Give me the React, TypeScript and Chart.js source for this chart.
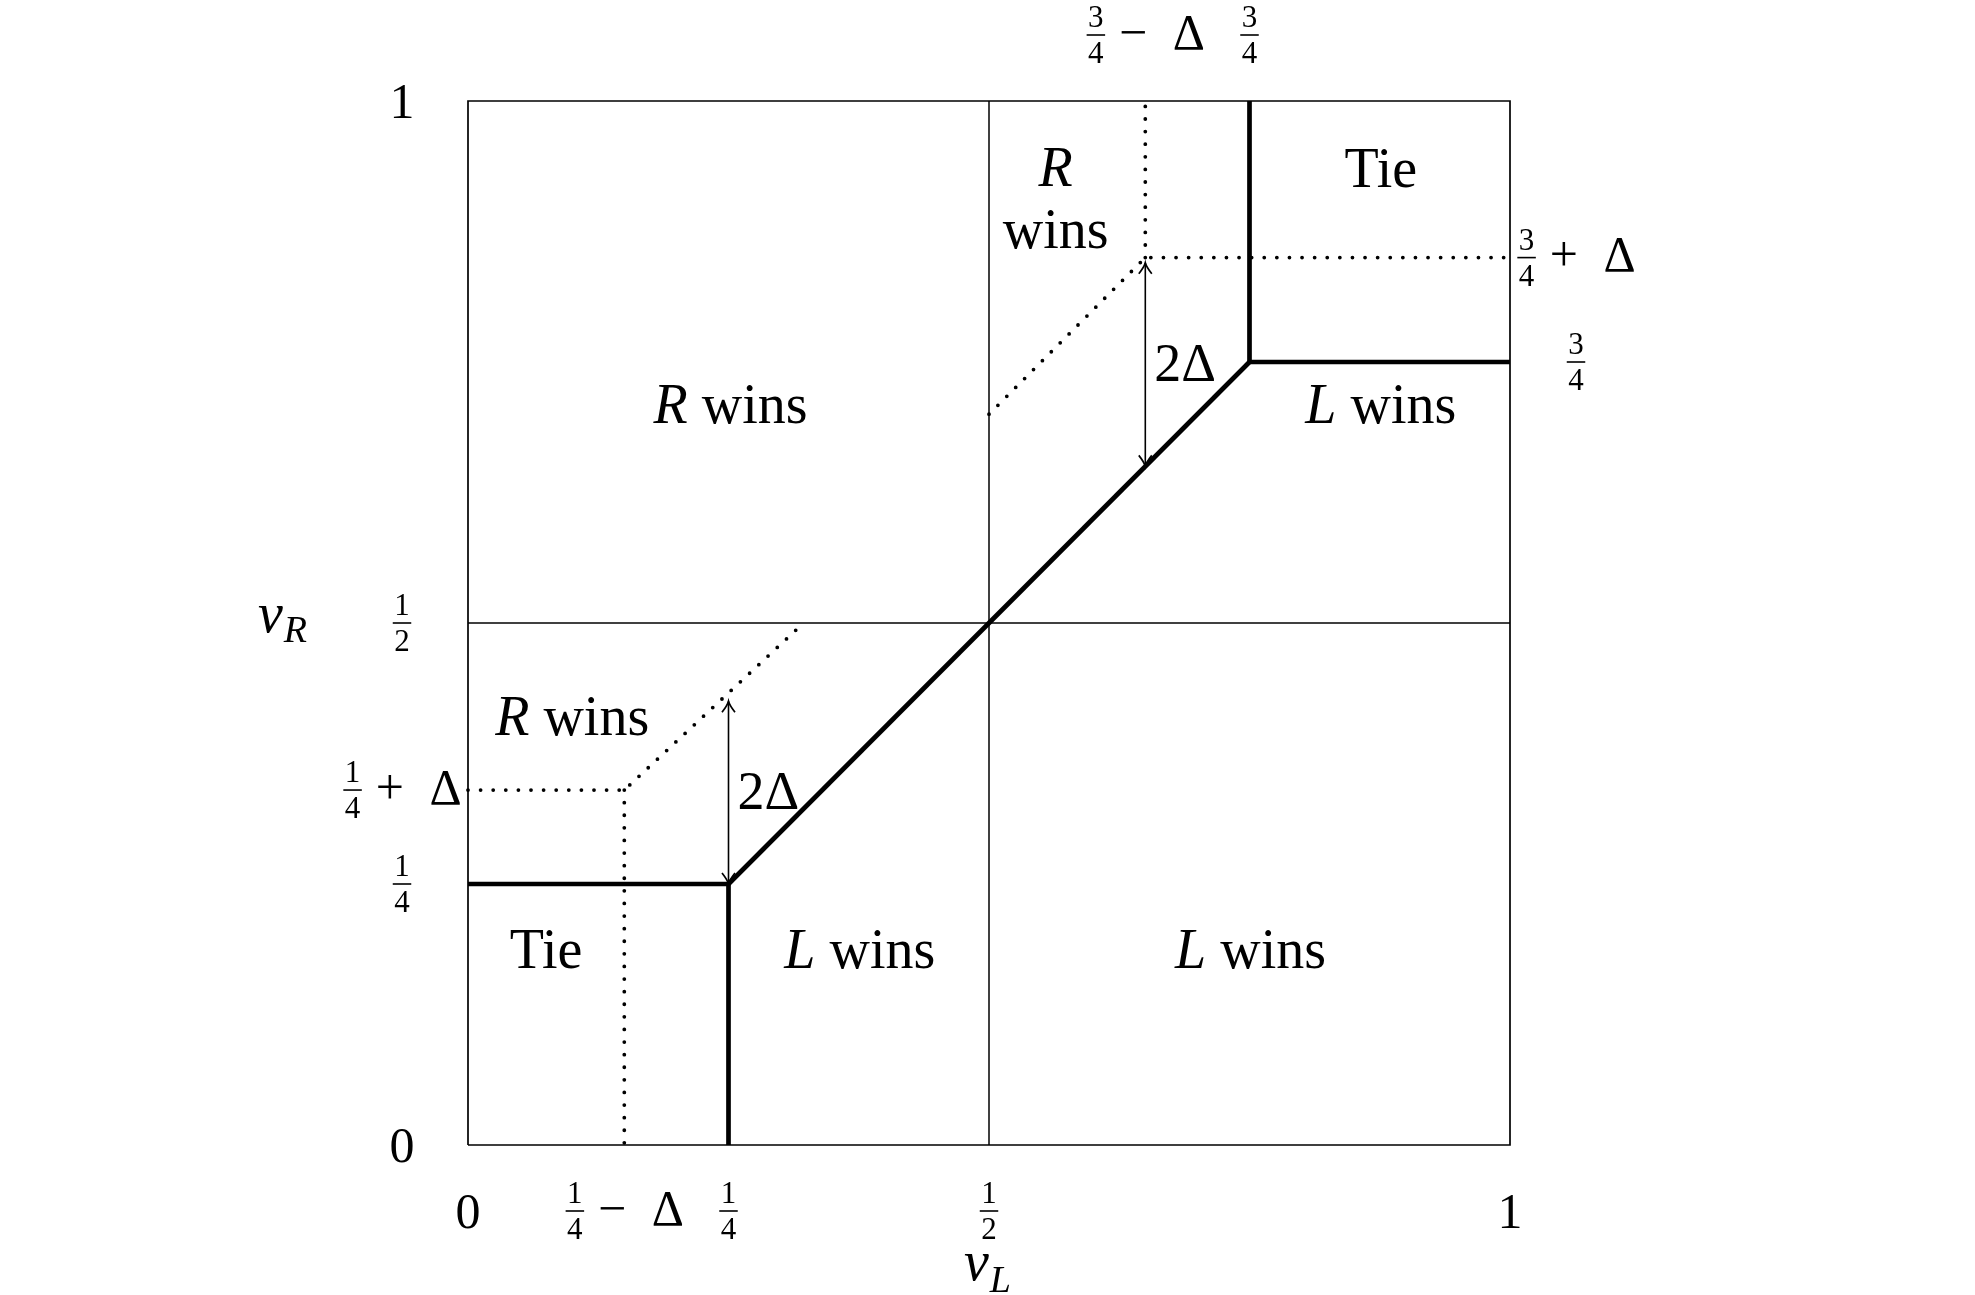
import React, { useEffect, useRef } from "react";
import { Chart, registerables } from "chart.js";

Chart.register(...registerables);

// ---------- data (unit square, v_L on x, v_R on y) ----------
const frameBorder = [
  { x: 0, y: 0 }, { x: 1, y: 0 }, { x: 1, y: 1 }, { x: 0, y: 1 }, { x: 0, y: 0 },
];
const midVertical = [{ x: 0.5, y: 0 }, { x: 0.5, y: 1 }];
const midHorizontal = [{ x: 0, y: 0.5 }, { x: 1, y: 0.5 }];

const lowTieBoundary = [{ x: 0, y: 0.25 }, { x: 0.25, y: 0.25 }, { x: 0.25, y: 0 }];
const diagonalBoundary = [{ x: 0.25, y: 0.25 }, { x: 0.75, y: 0.75 }];
const highTieBoundary = [{ x: 0.75, y: 1 }, { x: 0.75, y: 0.75 }, { x: 1, y: 0.75 }];

const lowDottedPath = [{ x: 0, y: 0.34 }, { x: 0.15, y: 0.34 }, { x: 0.322, y: 0.5 }];
const lowDottedDrop = [{ x: 0.15, y: 0.34 }, { x: 0.15, y: 0 }];
const highDottedPath = [{ x: 0.5, y: 0.7 }, { x: 0.65, y: 0.85 }, { x: 1, y: 0.85 }];
const highDottedRise = [{ x: 0.65, y: 0.85 }, { x: 0.65, y: 1 }];

const lowArrow = [{ x: 0.25, y: 0.25 }, { x: 0.25, y: 0.425 }];
const highArrow = [{ x: 0.65, y: 0.65 }, { x: 0.65, y: 0.845 }];
const arrowLabel = "2Δ";

const bottomTickValues = [0, 0.15, 0.25, 0.5, 1];
const bottomTickLabels = ["0", "1/4 − Δ", "1/4", "1/2", "1"];
const topTickValues = [0.65, 0.75];
const topTickLabels = ["3/4 − Δ", "3/4"];
const leftTickValues = [0, 0.25, 0.34, 0.5, 1];
const leftTickLabels = ["0", "1/4", "1/4 + Δ", "1/2", "1"];
const rightTickValues = [0.75, 0.85];
const rightTickLabels = ["3/4", "3/4 + Δ"];

const xAxisTitle = ["v", "L"];
const yAxisTitle = ["v", "R"];

const regionTexts = [
  ["*R* wins"],
  ["*R*", "wins"],
  ["Tie"],
  ["*L* wins"],
  ["*R* wins"],
  ["Tie"],
  ["*L* wins"],
  ["*L* wins"],
];
const regionX = [0.252, 0.564, 0.876, 0.876, 0.1, 0.075, 0.376, 0.751];
const regionY = [0.708, 0.905, 0.934, 0.708, 0.409, 0.186, 0.186, 0.186];

// ---------- rendering helpers ----------
const SERIF = '"Liberation Serif", "Times New Roman", serif';
const TICK_SIZE = 50;
const FRAC_SIZE = 31;
const REGION_SIZE = 56;
const font = (size: number, italic = false) =>
  `${italic ? "italic " : ""}${size}px ${SERIF}`;

type Tok =
  | { kind: "text"; s: string; italic: boolean }
  | { kind: "frac"; n: string; d: string }
  | { kind: "gap"; w: number };

function parse(label: string): Tok[] {
  const parts = label.split(/(\d+\/\d+|\*[^*]+\*|[−+])/).filter((p) => p.trim().length);
  const out: Tok[] = [];
  for (const p of parts) {
    const t = p.trim();
    if (/^\d+\/\d+$/.test(t)) {
      const [n, d] = t.split("/");
      out.push({ kind: "frac", n, d });
    } else if (/^\*.*\*$/.test(t)) {
      out.push({ kind: "text", s: t.slice(1, -1), italic: true });
    } else if (t === "−" || t === "+") {
      out.push({ kind: "gap", w: 0.26 });
      out.push({ kind: "text", s: t, italic: false });
      out.push({ kind: "gap", w: 0.26 });
    } else {
      out.push({ kind: "text", s: p, italic: false });
    }
  }
  return out;
}

function tokWidth(ctx: CanvasRenderingContext2D, t: Tok, size: number) {
  if (t.kind === "gap") return t.w * size;
  if (t.kind === "text") {
    ctx.font = font(size, t.italic);
    return ctx.measureText(t.s).width;
  }
  ctx.font = font(FRAC_SIZE);
  return Math.max(ctx.measureText(t.n).width, ctx.measureText(t.d).width) + 5;
}

function drawTickLabel(
  ctx: CanvasRenderingContext2D,
  label: string,
  cx: number,
  cy: number,
  size: number
) {
  const toks = parse(label);
  const hasFrac = toks.some((t) => t.kind === "frac");
  const widths = toks.map((t) => tokWidth(ctx, t, size));
  const total = widths.reduce((a, b) => a + b, 0);
  let x = cx - total / 2;
  const baseline = hasFrac ? cy + 0.27 * size : cy + 0.34 * size;
  ctx.fillStyle = "#000";
  ctx.textBaseline = "alphabetic";
  ctx.textAlign = "left";
  toks.forEach((t, i) => {
    const w = widths[i];
    if (t.kind === "text") {
      ctx.font = font(size, t.italic);
      ctx.fillText(t.s, x, baseline);
    } else if (t.kind === "frac") {
      ctx.font = font(FRAC_SIZE);
      ctx.textAlign = "center";
      const mid = x + w / 2;
      ctx.fillText(t.n, mid, cy - 8);
      ctx.fillText(t.d, mid, cy + 7 + 0.676 * FRAC_SIZE);
      ctx.textAlign = "left";
      ctx.fillRect(x + 1, cy - 0.8, w - 2, 1.6);
    }
    x += w;
  });
}

function drawRegionLabel(
  ctx: CanvasRenderingContext2D,
  lines: string[],
  cx: number,
  cy: number
) {
  const lineGap = 62;
  const n = lines.length;
  lines.forEach((line, li) => {
    const toks = parse(line);
    const widths = toks.map((t) => tokWidth(ctx, t, REGION_SIZE));
    const total = widths.reduce((a, b) => a + b, 0);
    let x = cx - total / 2;
    const baseline = cy + (li - (n - 1) / 2) * lineGap + 0.3 * REGION_SIZE;
    toks.forEach((t, i) => {
      if (t.kind === "text") {
        ctx.font = font(REGION_SIZE, t.italic);
        ctx.fillText(t.s, x, baseline);
      }
      x += widths[i];
    });
  });
}

function drawArrowHead(
  ctx: CanvasRenderingContext2D,
  x: number,
  y: number,
  dir: number
) {
  // dir = -1 points up, +1 points down
  ctx.beginPath();
  ctx.moveTo(x - 6.5, y - dir * 11);
  ctx.quadraticCurveTo(x - 1, y - dir * 4, x, y);
  ctx.quadraticCurveTo(x + 1, y - dir * 4, x + 6.5, y - dir * 11);
  ctx.lineWidth = 1.7;
  ctx.strokeStyle = "#000";
  ctx.stroke();
}

function drawAxisTitle(
  ctx: CanvasRenderingContext2D,
  parts: string[],
  left: number,
  baseline: number,
  subDrop: number
) {
  ctx.font = font(56, true);
  ctx.fillText(parts[0], left, baseline);
  const w = ctx.measureText(parts[0]).width;
  ctx.font = font(38, true);
  ctx.fillText(parts[1], left + w + 1, baseline + subDrop);
}

const overlayPlugin = {
  id: "overlay",
  afterDatasetsDraw(chart: any) {
    const ctx: CanvasRenderingContext2D = chart.ctx;
    const xs = chart.scales.x;
    const ys = chart.scales.y;
    const area = chart.chartArea;
    ctx.save();
    ctx.fillStyle = "#000";
    ctx.textBaseline = "alphabetic";
    ctx.textAlign = "left";

    // arrow heads
    for (const arr of [lowArrow, highArrow]) {
      const px = xs.getPixelForValue(arr[0].x);
      drawArrowHead(ctx, px, ys.getPixelForValue(arr[0].y), 1);
      drawArrowHead(ctx, px, ys.getPixelForValue(arr[1].y), -1);
      ctx.fillStyle = "#000";
      const midY = ys.getPixelForValue((arr[0].y + arr[1].y) / 2);
      ctx.font = font(54);
      ctx.textAlign = "left";
      ctx.fillText(arrowLabel, px + 9, midY + 0.3 * 54);
    }

    // region labels
    regionTexts.forEach((lines, i) => {
      drawRegionLabel(ctx, lines, xs.getPixelForValue(regionX[i]), ys.getPixelForValue(regionY[i]));
    });

    // tick labels
    bottomTickValues.forEach((v, i) =>
      drawTickLabel(ctx, bottomTickLabels[i], xs.getPixelForValue(v), area.bottom + 66, TICK_SIZE)
    );
    topTickValues.forEach((v, i) =>
      drawTickLabel(ctx, topTickLabels[i], xs.getPixelForValue(v), area.top - 66, TICK_SIZE)
    );
    leftTickValues.forEach((v, i) =>
      drawTickLabel(ctx, leftTickLabels[i], area.left - 66, ys.getPixelForValue(v), TICK_SIZE)
    );
    rightTickValues.forEach((v, i) =>
      drawTickLabel(ctx, rightTickLabels[i], area.right + 66, ys.getPixelForValue(v), TICK_SIZE)
    );

    // axis titles
    ctx.textAlign = "left";
    drawAxisTitle(ctx, xAxisTitle, xs.getPixelForValue(0.5) - 25, area.bottom + 135, 12);
    drawAxisTitle(ctx, yAxisTitle, area.left - 210, ys.getPixelForValue(0.5) + 9, 10);
    ctx.restore();
  },
};

export default function App() {
  const ref = useRef<HTMLCanvasElement>(null);
  useEffect(() => {
    document.body.style.margin = "0";
    document.body.style.overflow = "hidden";
    const canvas = ref.current!;
    const solid = (data: any[], w: number) => ({
      data,
      borderColor: "#000",
      backgroundColor: "#000",
      borderWidth: w,
      pointRadius: 0,
      pointHoverRadius: 0,
      showLine: true,
      fill: false,
      tension: 0,
      clip: false as any,
      borderJoinStyle: "miter" as const,
      borderCapStyle: "butt" as const,
    });
    const dotted = (data: any[]) => ({
      ...solid(data, 3.8),
      borderDash: [0, 12.6],
      borderCapStyle: "round" as const,
    });
    const chart = new Chart(canvas, {
      type: "scatter",
      data: {
        datasets: [
          solid(frameBorder, 1.7),
          solid(midVertical, 1.5),
          solid(midHorizontal, 1.5),
          dotted(lowDottedPath),
          dotted(lowDottedDrop),
          dotted(highDottedPath),
          dotted(highDottedRise),
          solid(lowArrow, 1.6),
          solid(highArrow, 1.6),
          solid(lowTieBoundary, 4.7),
          solid(diagonalBoundary, 4.7),
          solid(highTieBoundary, 4.7),
        ],
      },
      options: {
        animation: false,
        responsive: false,
        devicePixelRatio: 1,
        events: [],
        layout: { padding: { left: 468, top: 101, right: 465, bottom: 150 } },
        scales: {
          x: { type: "linear", min: 0, max: 1, display: false },
          y: { type: "linear", min: 0, max: 1, display: false },
        },
        plugins: { legend: { display: false }, tooltip: { enabled: false } },
      },
      plugins: [overlayPlugin],
    });
    return () => chart.destroy();
  }, []);
  return (
    <div style={{ width: 1975, height: 1295, background: "#fff" }}>
      <canvas ref={ref} width={1975} height={1295} style={{ display: "block", width: 1975, height: 1295 }} />
    </div>
  );
}
